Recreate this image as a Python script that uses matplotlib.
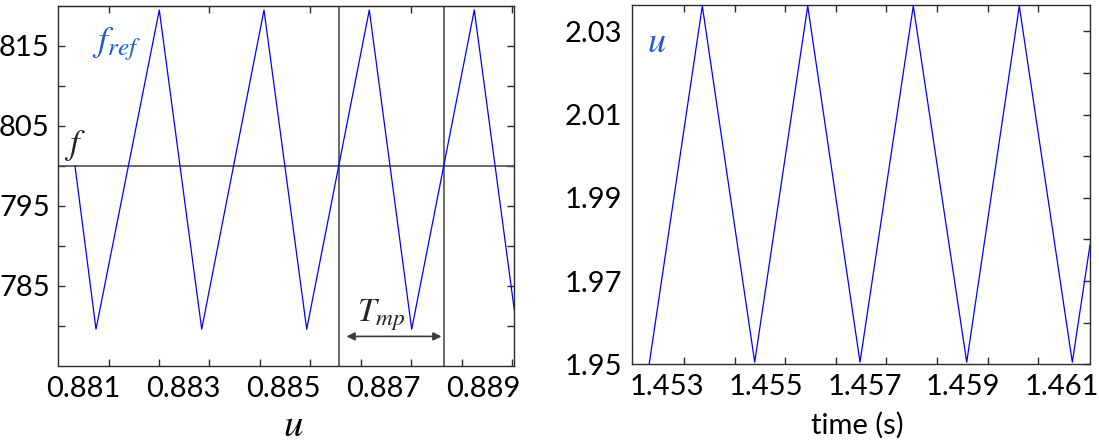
import numpy as np
import matplotlib
matplotlib.use("Agg")
import matplotlib.pyplot as plt

plt.rcParams['font.family'] = ['Lato', 'DejaVu Sans']
plt.rcParams['mathtext.fontset'] = 'stix'

# ---------------- data ----------------
# left panel: f_ref vs u (triangle wave vertices)
u_vertices = [0.88084, 0.88126, 0.882526, 0.883374, 0.88462, 0.885474,
              0.886726, 0.887574, 0.888826, 0.889626]
fref_vertices = [800.0, 779.6, 819.5, 779.6, 819.5, 779.6, 819.5, 779.6, 819.5, 782.0]
f_level = 800.0
tmp_lines = [0.88611, 0.88821]
left_xlabels = ["0.881", "0.883", "0.885", "0.887", "0.889"]
left_xlabel_vals = [0.881, 0.883, 0.885, 0.887, 0.889]
left_ylabel_vals = [785, 795, 805, 815]
left_yminor_vals = [780, 790, 800, 810]

# right panel: u vs time (triangle wave vertices)
t_vertices = [1.452641, 1.453715, 1.454776, 1.455850, 1.456909, 1.457988,
              1.459070, 1.460135, 1.461209, 1.461567]
u_values = [1.9502, 2.0361, 1.9505, 2.0361, 1.9505, 2.0361, 1.9505, 2.0361, 1.9505, 1.9787]
right_xlabels = ["1.453", "1.455", "1.457", "1.459", "1.461"]
right_xlabel_vals = [1.453, 1.455, 1.457, 1.459, 1.461]
right_ylabel_vals = [1.95, 1.97, 1.99, 2.01, 2.03]
right_yminor_vals = [1.96, 1.98, 2.00, 2.02]

# ---------------- figure ----------------
W, H = 1099, 441
fig = plt.figure(figsize=(W / 100, H / 100), dpi=100)

BLUE = '#0000ff'
TXTBLUE = '#1f5ad8'
GRAY = '#505050'
SPINE = '#2a2a2a'
TICKFS = 21

axL = fig.add_axes([58 / W, 1 - 366 / H, (514.3 - 58) / W, 360 / H])
axR = fig.add_axes([632.3 / W, 1 - 364.3 / H, (1090 - 632.3) / W, 359.6 / H])

for ax in (axL, axR):
    for s in ax.spines.values():
        s.set_color(SPINE)
        s.set_linewidth(1.0)

# ---- left panel ----
axL.plot(u_vertices, fref_vertices, color=BLUE, lw=0.9, zorder=3)
axL.axhline(f_level, color=GRAY, lw=1.2, zorder=2)
for xv in tmp_lines:
    axL.axvline(xv, color=GRAY, lw=1.2, zorder=2)
axL.set_xlim(0.8805, 0.889626)
axL.set_ylim(775, 820)

# labels (no tick marks) at label values, tick marks as minor ticks
axL.set_xticks(left_xlabel_vals)
axL.set_xticklabels(left_xlabels)
left_tick_marks = np.linspace(0.88151, 0.88958, 9)
axL.set_xticks(left_tick_marks, minor=True)
axL.tick_params(axis='x', which='major', length=0, pad=7, labelsize=TICKFS)
axL.tick_params(axis='x', which='minor', direction='in', length=5, width=1,
                color=SPINE, bottom=True, top=False)
secL = axL.secondary_xaxis('top')
secL.set_xticks(left_tick_marks[::2])
secL.tick_params(direction='in', length=5, width=1, color=SPINE, labeltop=False)
secL.spines['top'].set_color(SPINE)

axL.set_yticks(left_ylabel_vals)
axL.set_yticks(left_yminor_vals, minor=True)
axL.tick_params(axis='y', which='both', direction='in', length=5, width=1,
                color=SPINE, left=True, right=True, labelsize=TICKFS, pad=6)

axL.set_xlabel(r'$u$', fontsize=28)
axL.xaxis.set_label_coords(0.515, -(425 - 366) / 360)
axL.xaxis.label.set_verticalalignment('center')

axL.text(0.88168, 815.3, r'$f_{ref}$', color=TXTBLUE, fontsize=26,
         ha='center', va='center')
axL.text(0.88084, 802.6, r'$f$', color='#222222', fontsize=25,
         ha='center', va='center')
axL.annotate('', xy=(0.88627, 778.7), xytext=(0.88817, 778.7),
             arrowprops=dict(arrowstyle='<|-|>', color='#3a3a3a', lw=1.2,
                             mutation_scale=12, shrinkA=0, shrinkB=0))
axL.text(0.886974, 781.4, r'$T_{mp}$', color='#222222', fontsize=24,
         ha='center', va='center')

# ---- right panel ----
axR.plot(t_vertices, u_values, color=BLUE, lw=0.9, zorder=3)
axR.set_xlim(1.452297, 1.461567)
axR.set_ylim(1.95, 2.0364)

axR.set_xticks(right_xlabel_vals)
axR.set_xticklabels(right_xlabels)
right_tick_marks = np.linspace(1.453344, 1.460518, 8)
axR.set_xticks(right_tick_marks, minor=True)
axR.tick_params(axis='x', which='major', length=0, pad=7, labelsize=TICKFS)
axR.tick_params(axis='x', which='minor', direction='in', length=5, width=1,
                color=SPINE, bottom=True, top=True)

axR.set_yticks(right_ylabel_vals)
axR.set_yticklabels(['%.2f' % v for v in right_ylabel_vals])
axR.set_yticks(right_yminor_vals, minor=True)
axR.tick_params(axis='y', which='both', direction='in', length=5, width=1,
                color=SPINE, left=False, right=True, labelsize=TICKFS, pad=7)

axR.set_xlabel('time (s)', fontsize=21)
axR.xaxis.set_label_coords((857 - 632.3) / (1090 - 632.3), -(425 - 364.3) / 359.6)
axR.xaxis.label.set_verticalalignment('center')

axR.text(1.452797, 2.0275, r'$u$', color=TXTBLUE, fontsize=26,
         ha='center', va='center')

fig.savefig('out.png', dpi=100)
